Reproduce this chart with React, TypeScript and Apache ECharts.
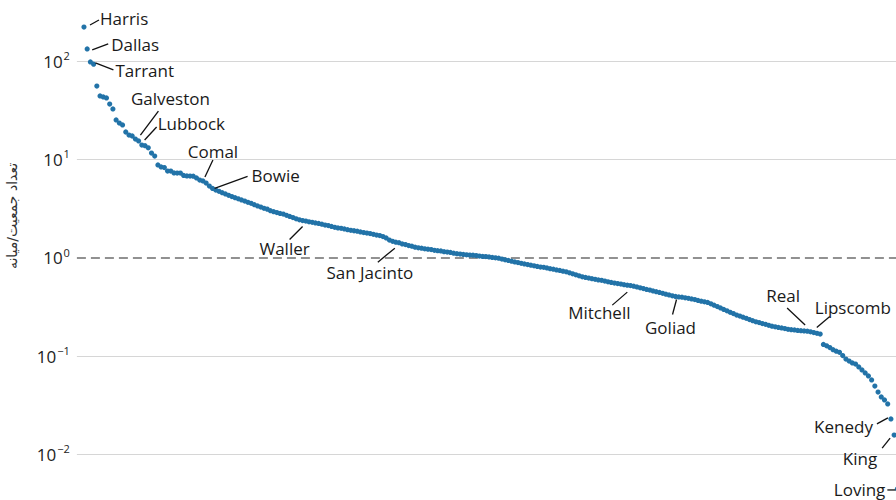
import React, { useEffect, useRef } from "react";
import * as echarts from "echarts";

// Texas counties, ranked by population, expressed as population / median county population.
const populationRatio: number[] = [
  222, 133, 98, 93, 55.8, 44.2, 43.2, 42.2, 36.6, 32.6,
  25.2, 23.4, 22.4, 19.0, 17.7, 17.3, 16.1, 15.4, 14.0, 13.8,
  13.1, 11.6, 10.8, 8.78, 8.37, 8.27, 7.62, 7.60, 7.28, 7.27,
  7.26, 6.86, 6.78, 6.76, 6.74, 6.47, 6.17, 6.03, 5.75, 5.36,
  5.06, 4.87, 4.73, 4.58, 4.45, 4.31, 4.19, 4.08, 3.97, 3.87,
  3.77, 3.66, 3.57, 3.46, 3.36, 3.27, 3.18, 3.12, 3.01, 2.94,
  2.88, 2.82, 2.78, 2.70, 2.63, 2.56, 2.49, 2.43, 2.39, 2.36,
  2.32, 2.29, 2.26, 2.23, 2.19, 2.15, 2.12, 2.08, 2.04, 2.01,
  1.99, 1.96, 1.93, 1.90, 1.88, 1.86, 1.83, 1.80, 1.78, 1.76,
  1.73, 1.70, 1.68, 1.64, 1.59, 1.51, 1.47, 1.44, 1.42, 1.38,
  1.36, 1.33, 1.31, 1.28, 1.26, 1.25, 1.23, 1.22, 1.21, 1.19,
  1.18, 1.17, 1.15, 1.14, 1.13, 1.11, 1.10, 1.09, 1.08, 1.07,
  1.065, 1.06, 1.05, 1.04, 1.03, 1.026, 1.017, 1.007, 0.998, 0.988,
  0.968, 0.952, 0.937, 0.921, 0.906, 0.892, 0.877, 0.865, 0.851, 0.839,
  0.828, 0.816, 0.804, 0.798, 0.787, 0.774, 0.764, 0.751, 0.741, 0.729,
  0.718, 0.702, 0.686, 0.670, 0.655, 0.640, 0.629, 0.620, 0.611, 0.603,
  0.594, 0.588, 0.578, 0.569, 0.560, 0.552, 0.545, 0.539, 0.532, 0.526,
  0.520, 0.513, 0.504, 0.494, 0.485, 0.476, 0.469, 0.459, 0.451, 0.443,
  0.434, 0.425, 0.418, 0.409, 0.403, 0.399, 0.396, 0.391, 0.386, 0.381,
  0.375, 0.368, 0.361, 0.356, 0.351, 0.340, 0.329, 0.318, 0.308, 0.298,
  0.288, 0.278, 0.270, 0.261, 0.255, 0.248, 0.242, 0.235, 0.229, 0.223,
  0.219, 0.214, 0.210, 0.205, 0.201, 0.198, 0.195, 0.193, 0.190, 0.187,
  0.185, 0.184, 0.182, 0.181, 0.180, 0.179, 0.176, 0.173, 0.170, 0.167,
  0.131, 0.127, 0.122, 0.116, 0.112, 0.109, 0.101, 0.0932, 0.0889, 0.0849,
  0.0829, 0.0773, 0.0721, 0.0672, 0.0626, 0.0570, 0.0495, 0.0430, 0.0383, 0.0357,
  0.0325, 0.0229, 0.0157, 0.00444,
];

// Named counties and their rank (0 = most populous).
const labeledCounties: string[] = [
  "Harris", "Dallas", "Tarrant", "Galveston", "Lubbock", "Comal", "Bowie", "Waller",
  "San Jacinto", "Mitchell", "Goliad", "Real", "Lipscomb", "Kenedy", "King", "Loving",
];
const labeledRanks: number[] = [0, 1, 2, 16, 17, 37, 40, 68, 97, 169, 184, 224, 227, 251, 252, 253];

// Decades that carry a tick label.
const labeledExponents: number[] = [-2, -1, 0, 1, 2];

const yAxisTitle = "تعداد جمعیت/میانه";

// Leader line (x1, y1, x2, y2) and text anchor offsets, in pixels from each marked point.
const calloutLayout: Record<string, { line: number[]; text: number[]; align: string }> = {
  Harris: { line: [6, -2, 15, -7], text: [16, -9], align: "left" },
  Dallas: { line: [5, 1, 21, -5], text: [24, -4], align: "left" },
  Tarrant: { line: [5, 1, 23, 8], text: [25, 9], align: "left" },
  Galveston: { line: [5, -4, 23, -28], text: [35, -41], align: "center" },
  Lubbock: { line: [6, -1, 18, -14], text: [19, -17], align: "left" },
  Comal: { line: [2, -4, 10, -21], text: [10, -29], align: "center" },
  Bowie: { line: [2, 0, 35, -12], text: [39, -13], align: "left" },
  Waller: { line: [0, 6, -13, 19], text: [-18, 28], align: "center" },
  "San Jacinto": { line: [-1, 6, -18, 20], text: [-26, 30], align: "center" },
  Mitchell: { line: [0, 7, -15, 20], text: [-28, 27], align: "center" },
  Goliad: { line: [1, 3, -3, 18], text: [-5, 31], align: "center" },
  Real: { line: [-17, -23, 1, -6], text: [-21, -35], align: "center" },
  Lipscomb: { line: [3, -5, 16, -16], text: [1, -25], align: "left" },
  Kenedy: { line: [-14, 5, -3, -1], text: [-18, 8], align: "right" },
  King: { line: [-12, 13, -4, 3], text: [-17, 23], align: "right" },
  Loving: { line: [-10, 1, -2, 1], text: [-12, 1], align: "right" },
};

const FONT = '"Open Sans", "Noto Sans", sans-serif';
const POINT_COLOR = "#2273a8";
const GRID_COLOR = "#d6d6d6";

export default function App() {
  const ref = useRef<HTMLDivElement>(null);

  useEffect(() => {
    if (!ref.current) return;
    const chart = echarts.init(ref.current, undefined, { renderer: "svg" });

    // One colour per decade line from 10^-3 to 10^3; the 10^0 line is drawn dashed separately.
    const gridColors = [GRID_COLOR, GRID_COLOR, GRID_COLOR, "rgba(0,0,0,0)", GRID_COLOR, GRID_COLOR, GRID_COLOR];

    chart.setOption({
      animation: false,
      grid: { left: 76.9, right: 3, top: 22.8, bottom: 67.4, containLabel: false },
      xAxis: {
        type: "value",
        min: -2.2,
        max: 256,
        show: false,
        splitLine: { show: false },
      },
      yAxis: {
        type: "log",
        logBase: 10,
        min: 0.001,
        max: 1000,
        axisLine: { show: false },
        axisTick: { show: false },
        splitLine: { show: true, lineStyle: { color: gridColors, width: 1 } },
        axisLabel: {
          margin: 7,
          formatter: (v: number) => {
            const e = Math.round(Math.log10(v));
            if (labeledExponents.indexOf(e) < 0) return "";
            const s = e < 0 ? "\u2212" + -e : String(e);
            return `{b|10}{e|${s}}`;
          },
          rich: {
            b: { fontSize: 17, fontFamily: FONT, color: "#222", lineHeight: 22 },
            e: { fontSize: 11, fontFamily: FONT, color: "#222", verticalAlign: "top", lineHeight: 14, padding: [0, 0, 0, 1] },
          },
        },
      },
      series: [
        {
          type: "scatter",
          data: populationRatio.map((v, i) => [i, v]),
          symbolSize: 5.2,
          itemStyle: { color: POINT_COLOR, opacity: 1 },
          z: 3,
          markLine: {
            silent: true,
            symbol: "none",
            label: { show: false },
            lineStyle: { color: "#6e6e6e", type: [9, 5], width: 1.6 },
            data: [{ yAxis: 1 }],
            z: 2,
          },
        },
      ],
    });

    const elements: any[] = [
      {
        type: "text",
        x: 12,
        y: 276,
        rotation: Math.PI / 2,
        style: {
          text: yAxisTitle,
          fontSize: 14,
          fontFamily: '"DejaVu Sans", sans-serif',
          fill: "#333",
          align: "center",
          verticalAlign: "middle",
        },
      },
    ];

    labeledCounties.forEach((name, k) => {
      const rank = labeledRanks[k];
      const p = chart.convertToPixel({ xAxisIndex: 0, yAxisIndex: 0 }, [rank, populationRatio[rank]]) as number[];
      const lay = calloutLayout[name];
      if (!p || !lay) return;
      elements.push({
        type: "line",
        shape: { x1: p[0] + lay.line[0], y1: p[1] + lay.line[1], x2: p[0] + lay.line[2], y2: p[1] + lay.line[3] },
        style: { stroke: "#111", lineWidth: 1.3 },
        z: 10,
      });
      elements.push({
        type: "text",
        x: p[0] + lay.text[0],
        y: p[1] + lay.text[1],
        style: {
          text: name,
          fontSize: 17,
          fontFamily: FONT,
          fill: "#1a1a1a",
          align: lay.align,
          verticalAlign: "middle",
        },
        z: 10,
      });
    });

    chart.setOption({ graphic: elements });

    return () => chart.dispose();
  }, []);

  return (
    <div style={{ position: "fixed", left: 0, top: 0, width: 896, height: 500, overflow: "hidden", background: "#fff" }}>
      <div ref={ref} style={{ position: "absolute", left: 0, top: -60, width: 910, height: 680 }} />
    </div>
  );
}
